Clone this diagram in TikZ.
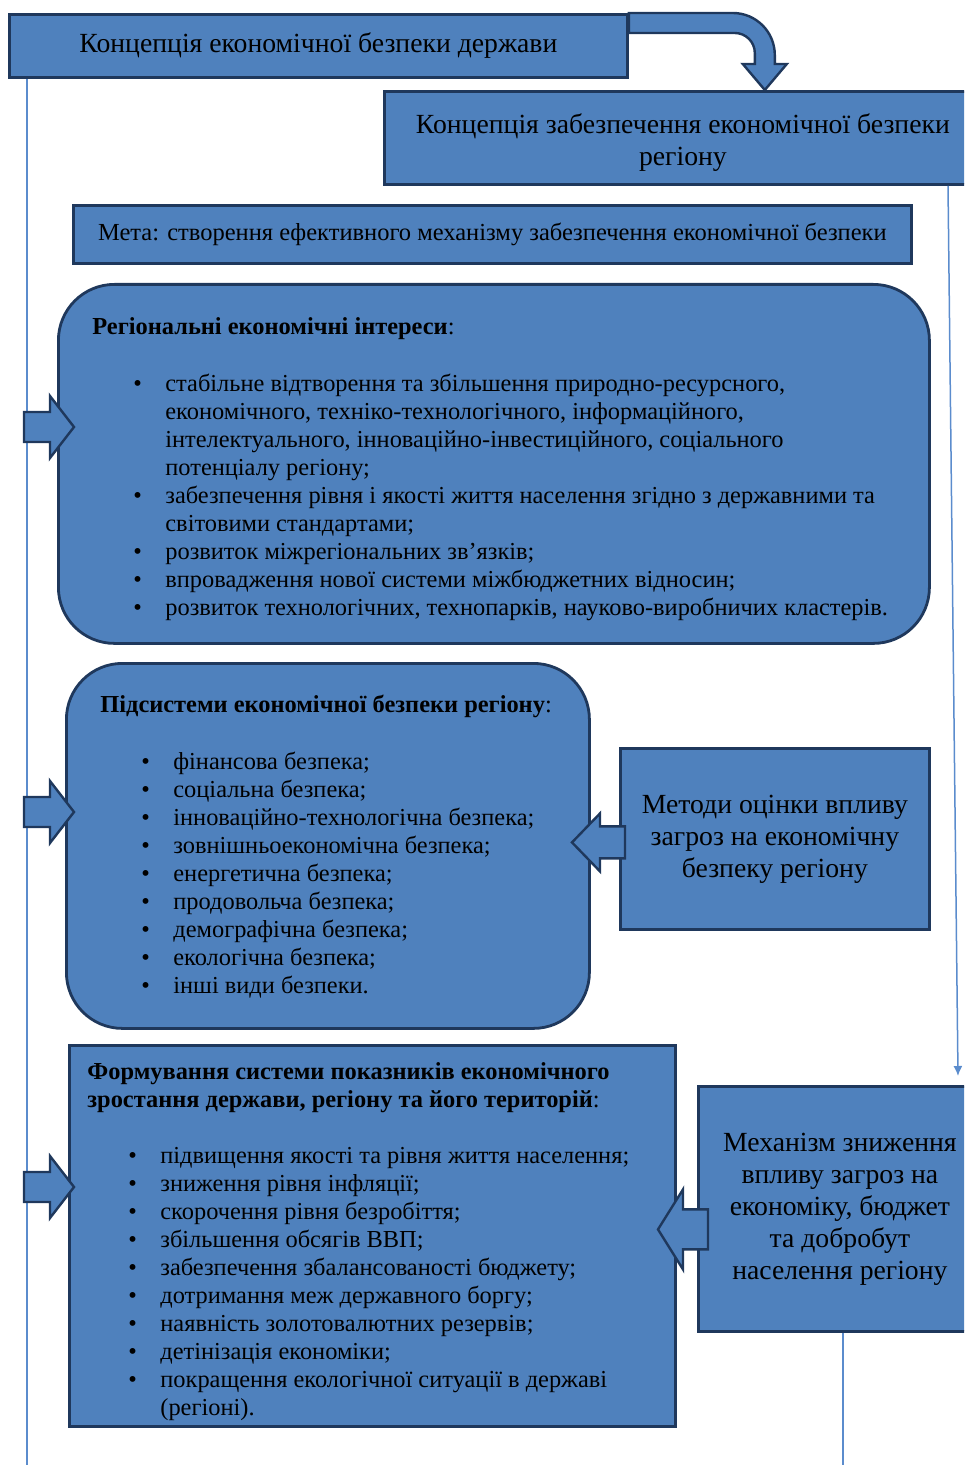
\documentclass[tikz,border=0pt]{standalone}
\usepackage{fontspec}
\setmainfont{Liberation Serif}
\usetikzlibrary{calc,arrows.meta}
\definecolor{boxblue}{RGB}{79,129,189}
\definecolor{boxline}{RGB}{31,56,92}
\definecolor{spineblue}{RGB}{91,140,205}
\newcommand{\itemline}[1]{\hspace*{20.5pt}\makebox[16pt][l]{\textbullet}#1}
\newcommand{\contline}[1]{\hspace*{36.5pt}#1}

\begin{document}
\begin{tikzpicture}[x=0.5pt,y=-0.5pt,
  box/.style={draw=boxline, fill=boxblue, line width=1.4pt, inner sep=0pt, anchor=north west},
  rbox/.style={box, rounded corners=28pt},
  barrow/.style={draw=boxline, fill=boxblue, line width=1.2pt, line join=miter},
  thinline/.style={draw=spineblue, line width=0.75pt},
  title/.style={font=\fontsize{13.85}{16}\selectfont, align=center},
  list/.style={anchor=north west, inner sep=0pt, align=left, font=\fontsize{12.2}{14}\selectfont},
  inarrow/.pic={\draw[barrow] (0,-15) -- (26,-15) -- (26,-31) -- (50,0) -- (26,31) -- (26,15) -- (0,15) -- cycle;}
]
\useasboundingbox (0,0) rectangle (964,1465);
\clip (0,0) rectangle (964,1465);

% концепції
\node[box, title, minimum width=309pt, minimum height=31.5pt] (st) at (8,13) {Концепція економічної безпеки держави};
\node[box, title, minimum width=298.5pt, minimum height=46.5pt] (reg) at (383,90) {\rule{0pt}{14.5pt}Концепція забезпечення економічної безпеки\\регіону};
\node[box, minimum width=419pt, minimum height=29pt, font=\fontsize{12.25}{14}\selectfont] (goal) at (72,204) {Мета: створення ефективного механізму забезпечення економічної безпеки};

% інтереси
\node[rbox, minimum width=435.5pt, minimum height=179.5pt] (interests) at (57,283) {};
\node[list] (interestslist) at (92,317) {\textbf{Регіональні економічні інтереси}:\\[14.5pt]
  \itemline{стабільне відтворення та збільшення природно-ресурсного,}\\
  \contline{економічного, техніко-технологічного, інформаційного,}\\
  \contline{інтелектуального, інноваційно-інвестиційного, соціального}\\
  \contline{потенціалу регіону;}\\
  \itemline{забезпечення рівня і якості життя населення згідно з державними та}\\
  \contline{світовими стандартами;}\\
  \itemline{розвиток міжрегіональних зв'язків;}\\
  \itemline{впровадження нової системи міжбюджетних відносин;}\\
  \itemline{розвиток технологічних, технопарків, науково-виробничих кластерів.}};

% підсистеми
\node[rbox, minimum width=261.5pt, minimum height=182.5pt] (subs) at (65,662) {};
\node[list] (subslist) at (100,695) {\textbf{Підсистеми економічної безпеки регіону}:\\[14.5pt]
  \itemline{фінансова безпека;}\\
  \itemline{соціальна безпека;}\\
  \itemline{інноваційно-технологічна безпека;}\\
  \itemline{зовнішньоекономічна безпека;}\\
  \itemline{енергетична безпека;}\\
  \itemline{продовольча безпека;}\\
  \itemline{демографічна безпека;}\\
  \itemline{екологічна безпека;}\\
  \itemline{інші види безпеки.}};
\node[box, title, minimum width=154.5pt, minimum height=90.5pt] (methods) at (619,747) {Методи оцінки впливу\\загроз на економічну\\безпеку регіону};

% показники
\node[box, minimum width=303pt, minimum height=190.5pt] (form) at (68,1044) {};
\node[list] (formlist) at (87,1062) {\textbf{Формування системи показників економічного}\\
  \textbf{зростання держави, регіону та його територій}:\\[14pt]
  \itemline{підвищення якості та рівня життя населення;}\\
  \itemline{зниження рівня інфляції;}\\
  \itemline{скорочення рівня безробіття;}\\
  \itemline{збільшення обсягів ВВП;}\\
  \itemline{забезпечення збалансованості бюджету;}\\
  \itemline{дотримання меж державного боргу;}\\
  \itemline{наявність золотовалютних резервів;}\\
  \itemline{детінізація економіки;}\\
  \itemline{покращення екологічної ситуації в державі}\\
  \contline{(регіоні).}};
\node[box, title, minimum width=141.5pt, minimum height=122.5pt] (mech) at (697,1085) {Механізм зниження\\впливу загроз на\\економіку, бюджет\\та добробут\\населення регіону};

% тонкі лінії
\draw[thinline] ($(st.south west)+(19,0)$) -- ++(0,1400);
\draw[thinline, -{Latex[length=5pt,width=4.5pt]}] ($(reg.south west)+(565,0)$) -- ($(mech.north west)+(261,-9)$);
\draw[thinline] ($(mech.south west)+(146,0)$) -- ++(0,140);

% стрілки
\draw[barrow] (st.north east) -- ++(104,0) arc(-90:0:42) -- ++(0,9) -- ++(12,0) -- ++(-22,26)
  -- ++(-22,-26) -- ++(12,0) -- ++(0,-11) arc(0:-90:20) -- ++(-106,0) -- cycle;
\pic at (24,427) {inarrow};
\pic at (24,812) {inarrow};
\pic at (24,1187) {inarrow};
\draw[barrow] ($(methods.west)+(6,-12.5)$) -- ++(-25,0) -- ++(0,-13) -- ++(-28,29) -- ++(28,29)
  -- ++(0,-13) -- ++(25,0) -- cycle;
\draw[barrow] ($(mech.west)+(11,0.5)$) -- ++(-25,0) -- ++(0,-20) -- ++(-25,40) -- ++(25,40)
  -- ++(0,-20) -- ++(25,0) -- cycle;
\end{tikzpicture}
\end{document}
